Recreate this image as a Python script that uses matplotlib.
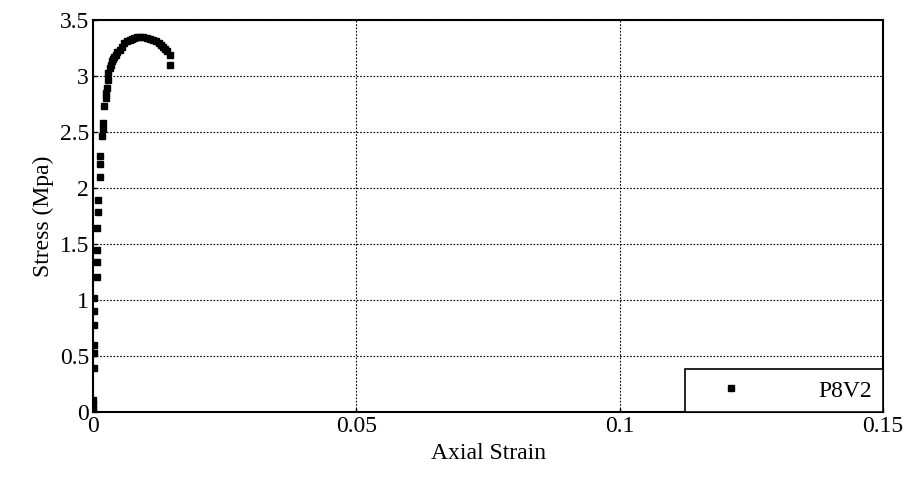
import matplotlib

matplotlib.use("Agg")

import matplotlib.pyplot as plt


# values
STRAIN = [
    0.0000, 0.0000, 0.0000, 0.0000, 0.0002, 0.0002, 0.0002, 0.0002,
    0.0002, 0.0002, 0.0007, 0.0007, 0.0007, 0.0008, 0.0010, 0.0010,
    0.0013, 0.0013, 0.0013, 0.0017, 0.0018, 0.0018, 0.0021, 0.0024,
    0.0025, 0.0026, 0.0028,
    0.0029, 0.0031, 0.0033, 0.0035, 0.0037, 0.0040, 0.0043, 0.0046,
    0.0050, 0.0054, 0.0059, 0.0064, 0.0069, 0.0073, 0.0078, 0.0083,
    0.0089, 0.0095, 0.0102, 0.0108, 0.0114, 0.0119, 0.0124, 0.0129,
    0.0133, 0.0137, 0.0141, 0.0145, 0.0146,
]
STRESS = [
    0.00, 0.03, 0.07, 0.11, 0.39, 0.53, 0.60, 0.78,
    0.90, 1.02, 1.21, 1.34, 1.45, 1.64, 1.79, 1.89,
    2.10, 2.21, 2.29, 2.46, 2.53, 2.58, 2.73, 2.80,
    2.85, 2.89, 2.96,
    3.03, 3.07, 3.10, 3.13, 3.15, 3.17, 3.19, 3.21,
    3.23, 3.26, 3.29, 3.31, 3.32, 3.33, 3.34, 3.35,
    3.35, 3.35, 3.34, 3.33, 3.32, 3.31, 3.29, 3.28,
    3.26, 3.24, 3.22, 3.19, 3.10,
]
SERIES_LABEL = "P8V2"

X_TICKS = [0, 0.05, 0.1, 0.15]
X_TICK_LABELS = ["0", "0.05", "0.1", "0.15"]
Y_TICKS = [0, 0.5, 1, 1.5, 2, 2.5, 3, 3.5]
Y_TICK_LABELS = ["0", "0.5", "1", "1.5", "2", "2.5", "3", "3.5"]

plt.rcParams["font.family"] = ["Liberation Serif", "DejaVu Serif"]
plt.rcParams["font.size"] = 17

fig = plt.figure(figsize=(9.14, 4.86), dpi=100)
ax = fig.add_axes([0.102, 0.152, 0.864, 0.807])

ax.plot(
    STRAIN,
    STRESS,
    linestyle="none",
    marker="s",
    markersize=4,
    color="black",
    label=SERIES_LABEL,
)

ax.set_xlim(0, 0.15)
ax.set_ylim(0, 3.5)
ax.set_xticks(X_TICKS)
ax.set_xticklabels(X_TICK_LABELS)
ax.set_yticks(Y_TICKS)
ax.set_yticklabels(Y_TICK_LABELS)
ax.tick_params(direction="in", length=3, width=1, pad=3)

ax.grid(True, color="black", linestyle=(0, (1.5, 1.5)), linewidth=0.8)

for spine in ax.spines.values():
    spine.set_linewidth(1.5)

ax.set_xlabel("Axial Strain", labelpad=4)
ax.set_ylabel("Stress (Mpa)", labelpad=4)

legend = ax.legend(
    loc="lower right",
    borderaxespad=0,
    fancybox=False,
    framealpha=1,
    edgecolor="black",
    handlelength=3.0,
    handletextpad=2.2,
    borderpad=0.45,
)
legend.get_frame().set_linewidth(1.2)

fig.savefig("out.png", dpi=100)
plt.close(fig)
